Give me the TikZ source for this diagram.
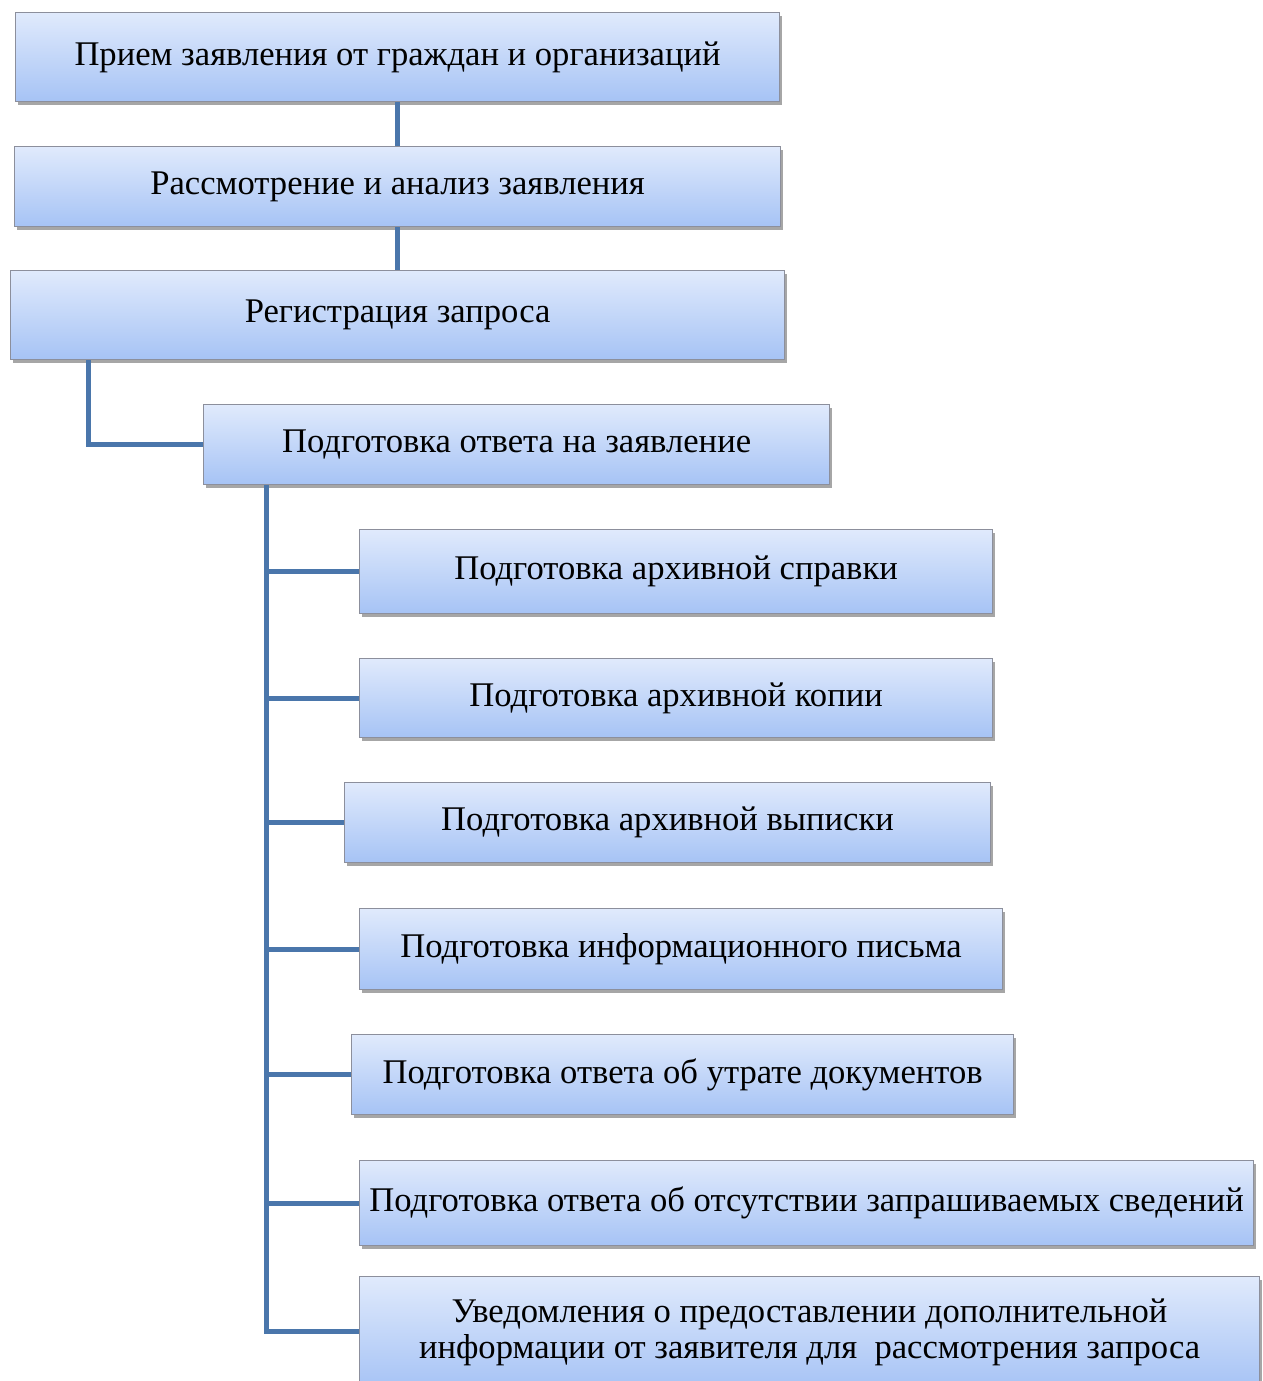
\documentclass[tikz,border=0pt]{standalone}
\usepackage{fontspec}
\setmainfont{Liberation Serif}
\usetikzlibrary{shadows,calc}
\definecolor{conncol}{HTML}{4A76AB}
\definecolor{boxtop}{HTML}{E0EAFC}
\definecolor{boxbot}{HTML}{A6C3F5}
\definecolor{boxline}{HTML}{8C8F9C}
\tikzset{
  box/.style={draw=boxline, line width=1.2pt, top color=boxtop, bottom color=boxbot,
    anchor=north west, inner sep=0pt, align=center,
    font=\fontsize{34.6}{36}\selectfont,
    drop shadow={shadow xshift=2pt, shadow yshift=-3pt, fill=black, opacity=0.35}},
  conn/.style={draw=conncol, line width=5pt}
}
\begin{document}
\begin{tikzpicture}[x=1pt,y=-1pt]
\useasboundingbox (0,0) rectangle (1263,1381);
\node[box, minimum width=764pt, minimum height=89pt] (b1) at (15,12) {Прием заявления от граждан и организаций};
\node[box, minimum width=766pt, minimum height=80pt] (b2) at (14,146) {Рассмотрение и анализ заявления};
\node[box, minimum width=774pt, minimum height=89pt] (b3) at (10,270) {Регистрация запроса};
\node[box, minimum width=626pt, minimum height=80pt] (b4) at (203,404) {Подготовка ответа на заявление};
\node[box, minimum width=633pt, minimum height=84pt] (b5) at (359,529) {Подготовка архивной справки};
\node[box, minimum width=633pt, minimum height=79pt] (b6) at (359,658) {Подготовка архивной копии};
\node[box, minimum width=646pt, minimum height=80pt] (b7) at (344,782) {Подготовка архивной выписки};
\node[box, minimum width=643pt, minimum height=81pt] (b8) at (359,908) {Подготовка информационного письма};
\node[box, minimum width=662pt, minimum height=80pt] (b9) at (351,1034) {Подготовка ответа об утрате документов};
\node[box, minimum width=894pt, minimum height=85pt] (b10) at (359,1160) {Подготовка ответа об отсутствии запрашиваемых сведений};
\node[box, minimum width=900pt, minimum height=112pt] (b11) at (359,1276) {Уведомления о предоставлении дополнительной\\информации от заявителя для\ \ рассмотрения запроса};
\draw[conn] (b1.south) -- (b2.north);
\draw[conn] (b2.south) -- (b3.north);
\draw[conn] ([xshift=78pt]b3.south west) |- (b4.west);
\coordinate (tr) at ([xshift=63pt]b4.south west);
\foreach \n in {b5,b6,b7,b8,b9,b10}{\draw[conn] (tr) |- (\n.west);}
\draw[conn] (tr) |- ($(b11.north west)+(0,55)$);
\end{tikzpicture}
\end{document}
